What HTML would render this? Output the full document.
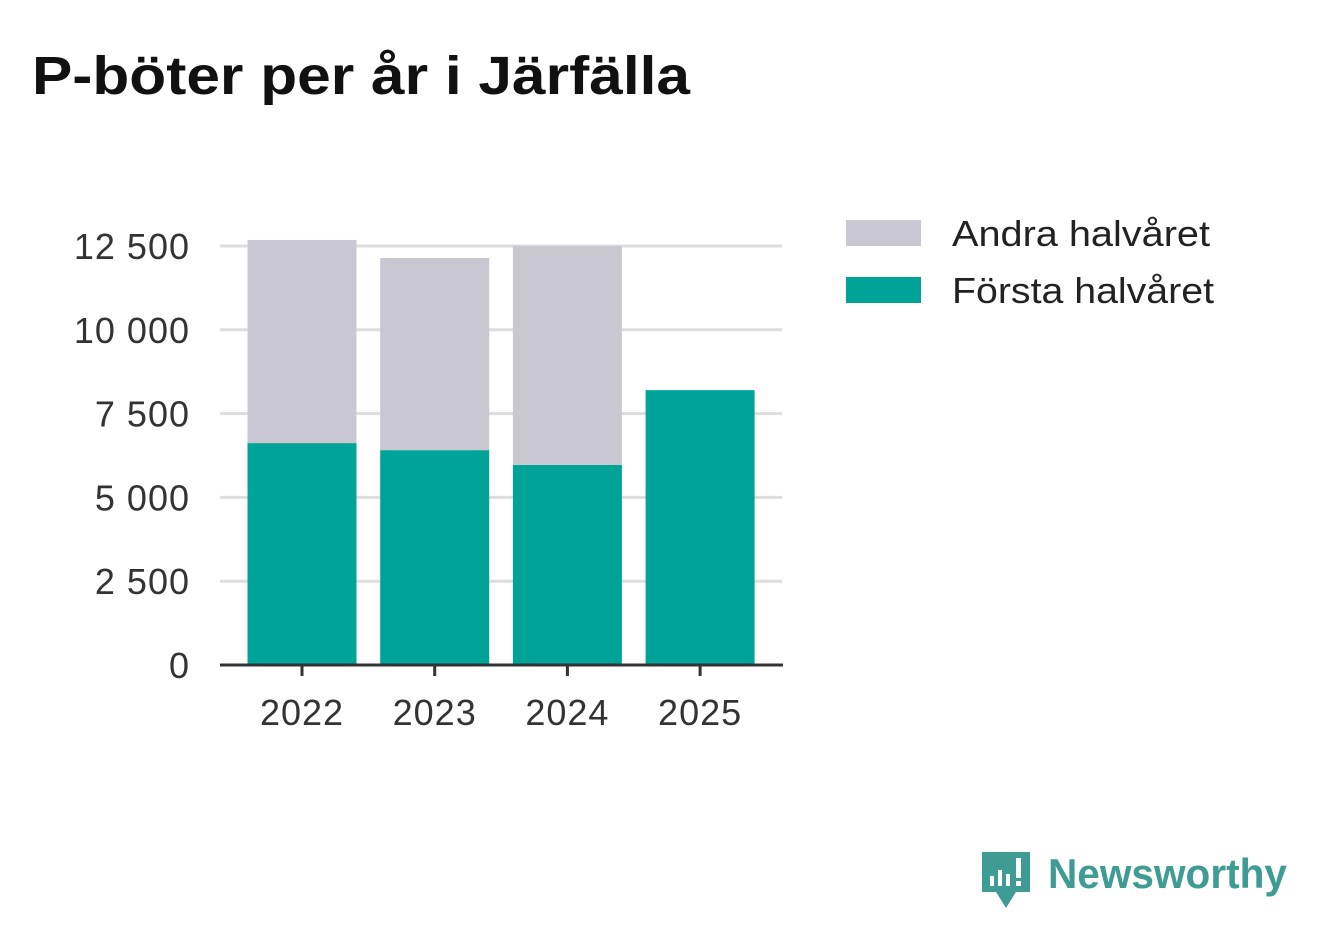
<!DOCTYPE html>
<html><head><meta charset="utf-8"><style>
body{margin:0;background:#fff;width:1322px;height:939px;overflow:hidden;font-family:"Liberation Sans",sans-serif}
svg text{font-family:"Liberation Sans","DejaVu Sans",sans-serif}
</style></head><body>
<svg id="chart" width="1322" height="939" xmlns="http://www.w3.org/2000/svg">
<text x="32" y="94" font-size="54" font-weight="bold" fill="#111" textLength="658" lengthAdjust="spacingAndGlyphs">P-böter per år i Järfälla</text>
<g id="grid"></g>
<g id="bars"></g>
<g id="axes"></g>
<g>
<rect x="846" y="220" width="75" height="26" fill="#c8c7d2"/>
<text x="952" y="246" font-size="36" fill="#222" textLength="258" lengthAdjust="spacingAndGlyphs">Andra halvåret</text>
<rect x="846" y="277" width="75" height="26" fill="#00a398"/>
<text x="952" y="303" font-size="36" fill="#222" textLength="262" lengthAdjust="spacingAndGlyphs">Första halvåret</text>
</g>
<g>
<path d="M982 852 h48 v40 h-14 l-10 16 l-10 -16 h-14 z" fill="#3e9c95"/>
<rect x="990" y="876" width="4" height="10" fill="#fff"/><rect x="998" y="870" width="4" height="16" fill="#fff"/><rect x="1006" y="874" width="4" height="12" fill="#fff"/><rect x="1016" y="858" width="5" height="20" fill="#fff"/><rect x="1016" y="881" width="5" height="5" fill="#fff"/>
<text x="1048" y="888" font-size="42" font-weight="bold" fill="#3e9c95" textLength="239" lengthAdjust="spacingAndGlyphs">Newsworthy</text>
</g>
</svg>
<script>
const years=["2022","2023","2024","2025"];
const forsta=[6620,6410,5970,8200];
const andra=[6060,5730,6530,0];
const yTicks=[0,2500,5000,7500,10000,12500];
const yTickLabels=["0","2 500","5 000","7 500","10 000","12 500"];
const NS="http://www.w3.org/2000/svg";
const y0=665,y1=246,vMax=12500;
function yScale(v){return y0-(y0-y1)*v/vMax;}
function xCenter(i){return 302+i*132.7;}
const bw=109;
function mk(tag,attrs,parent){const e=document.createElementNS(NS,tag);for(const k in attrs)e.setAttribute(k,attrs[k]);parent.appendChild(e);return e;}
const grid=document.getElementById('grid'),bars=document.getElementById('bars'),axes=document.getElementById('axes');
yTicks.forEach((t,i)=>{
  if(t>0){const l=mk('line',{x1:220,x2:782,y1:yScale(t),y2:yScale(t),stroke:'#dddddd','stroke-width':3},grid);
  
  }
  const tx=mk('text',{x:190,y:yScale(t)+13,'font-size':36,fill:'#333','text-anchor':'end','letter-spacing':1},axes);
  tx.textContent=yTickLabels[i];
  
  
});
years.forEach((yr,i)=>{
  const cx=xCenter(i);
  const r1=mk('rect',{x:cx-bw/2,y:yScale(forsta[i]),width:bw,height:y0-yScale(forsta[i]),fill:'#00a398'},bars);
  
  
  if(andra[i]>0){const top=yScale(forsta[i]+andra[i]);
  const r2=mk('rect',{x:cx-bw/2,y:top,width:bw,height:yScale(forsta[i])-top,fill:'#c8c7d2'},bars);
  
  }
  const tk=mk('line',{x1:cx,x2:cx,y1:y0,y2:676,stroke:'#333','stroke-width':3},axes);
  
  
  const lb=mk('text',{x:cx,y:725,'font-size':36,fill:'#333','text-anchor':'middle','letter-spacing':1},axes);
  lb.textContent=yr;
  
  
});
const ax=mk('line',{x1:220,x2:783,y1:y0,y2:y0,stroke:'#333','stroke-width':3},axes);


</script>
</body></html>
